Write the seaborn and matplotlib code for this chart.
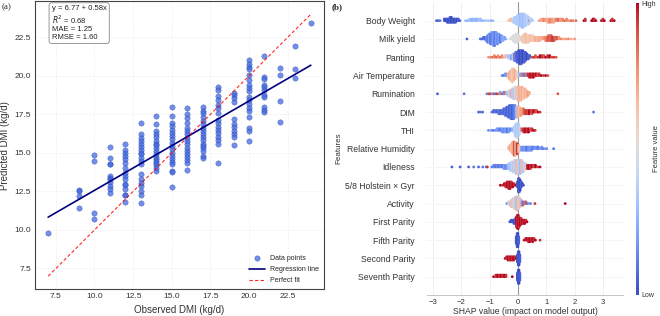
import numpy as np
import pandas as pd
import seaborn as sns
import matplotlib
matplotlib.use('Agg')
import matplotlib.pyplot as plt
from matplotlib.colors import Normalize
from matplotlib.cm import ScalarMappable

# Panel (a): predicted DMI per observed DMI (kg/d), read per column
pred_07 = [9.8]
pred_09 = [12.6, 12.5, 12.2, 11.4]
pred_10 = [14.85, 14.45, 11.1, 10.7]
pred_11 = [15.4, 14.65, 14.3, 14.3, 13.5, 13.4, 13.3, 13.1, 12.85, 12.65, 12.4]
pred_12 = [15.6, 15.2, 15.0, 14.8, 14.6, 14.35, 14.05, 13.7, 13.5, 13.3, 13.0,
           12.95, 12.65, 12.3, 12.25, 11.8]
pred_13 = [16.95, 16.2, 15.95, 15.8, 15.55, 15.4, 15.2, 15.0, 14.9, 14.7, 14.45,
           14.25, 13.6, 13.3, 13.05, 12.85, 12.5, 12.3, 11.75]
pred_14 = [17.4, 16.85, 16.4, 16.2, 16.0, 15.8, 15.6, 15.5, 15.3, 15.1, 14.9,
           14.75, 14.6, 14.45, 14.35, 14.2, 14.05, 13.85]
pred_15 = [17.95, 17.4, 16.95, 16.75, 16.5, 16.3, 16.1, 15.9, 15.65, 15.45, 15.25,
           15.0, 14.8, 14.6, 14.4, 14.3, 13.8, 13.75, 12.8]
pred_16 = [17.9, 17.5, 17.25, 16.95, 16.6, 16.4, 16.2, 15.95, 15.75, 15.55, 15.35,
           15.1, 14.9, 14.75, 14.55, 14.35, 13.9]
pred_17 = [18.0, 17.75, 17.6, 17.35, 17.1, 16.9, 16.6, 16.4, 16.2, 16.05, 15.85,
           15.6, 15.45, 15.3, 15.1, 14.8, 14.7]
pred_18 = [19.3, 19.1, 18.7, 18.45, 18.1, 17.9, 17.6, 17.15, 16.95, 16.7, 16.5,
           16.3, 16.05, 15.85, 15.6, 14.35]
pred_19 = [18.9, 18.75, 18.55, 18.3, 17.2, 16.85, 16.65, 16.45, 16.25, 16.05, 15.5]
pred_20 = [21.0, 20.8, 20.6, 20.45, 20.05, 19.75, 19.4, 19.2, 19.0, 18.65, 18.45,
           18.2, 17.9, 17.7, 17.35, 16.6, 16.45, 15.8]
pred_21 = [21.3, 19.95, 19.8, 19.4, 19.25, 19.1, 18.75, 18.6, 18.0, 17.8, 17.65]
pred_22 = [20.5, 20.05, 18.4, 17.0]
pred_23 = [21.95, 20.45, 19.85]
pred_24 = [23.45]

observed_levels = [7, 9, 10, 11, 12, 13, 14, 15, 16, 17, 18, 19, 20, 21, 22, 23, 24]
pred_columns = [pred_07, pred_09, pred_10, pred_11, pred_12, pred_13, pred_14, pred_15,
                pred_16, pred_17, pred_18, pred_19, pred_20, pred_21, pred_22, pred_23,
                pred_24]

intercept, slope = 6.77, 0.58
r2, mae, rmse = 0.68, 1.25, 1.60

# Panel (b): SHAP summary, each entry = (shap value, number of points, feature value 0-1)
feature_names = ['Body Weight', 'Milk yield', 'Panting', 'Air Temperature', 'Rumination',
                 'DIM', 'THI', 'Relative Humidity', 'Idleness', '5/8 Holstein × Gyr',
                 'Activity', 'First Parity', 'Fifth Parity', 'Second Parity',
                 'Seventh Parity']

body_weight = [
    (-2.88, 1, 0.1), (-2.82, 1, 0.05), (-2.75, 1, 0.1),
    (-2.6, 2, 0.05), (-2.55, 2, 0.0), (-2.5, 3, 0.05), (-2.45, 3, 0.0), (-2.4, 4, 0.05),
    (-2.35, 4, 0.0), (-2.3, 3, 0.05), (-2.25, 3, 0.0), (-2.2, 3, 0.05), (-2.15, 2, 0.0),
    (-2.1, 2, 0.05), (-2.05, 1, 0.05),
    (-1.85, 1, 0.3), (-1.78, 1, 0.25), (-1.7, 2, 0.3), (-1.62, 2, 0.25), (-1.55, 2, 0.3),
    (-1.48, 2, 0.25), (-1.4, 2, 0.3), (-1.32, 2, 0.3), (-1.25, 1, 0.25), (-1.15, 1, 0.3),
    (-1.05, 1, 0.3), (-0.95, 1, 0.25), (-0.88, 1, 0.3),
    (-0.33, 1, 0.65), (-0.28, 2, 0.6), (-0.22, 2, 0.65), (-0.17, 3, 0.4), (-0.12, 4, 0.35),
    (-0.07, 5, 0.35), (-0.02, 6, 0.35), (0.03, 7, 0.35), (0.08, 8, 0.3), (0.13, 9, 0.35),
    (0.18, 9, 0.3), (0.23, 8, 0.35), (0.28, 7, 0.35), (0.33, 6, 0.4), (0.38, 5, 0.35),
    (0.41, 1, 0.9), (0.43, 3, 0.4), (0.48, 2, 0.35), (0.53, 1, 0.4),
    (0.75, 1, 0.75), (0.82, 2, 0.7), (0.9, 2, 0.8), (0.97, 2, 0.75), (1.05, 3, 0.7),
    (1.12, 3, 0.8), (1.2, 3, 0.75), (1.27, 3, 0.7), (1.35, 2, 0.8), (1.42, 2, 0.85),
    (1.5, 2, 0.75), (1.58, 2, 0.8), (1.65, 1, 0.85), (1.72, 2, 0.8), (1.8, 1, 0.75),
    (1.88, 1, 0.85), (1.95, 1, 0.8), (2.05, 1, 0.85),
    (2.33, 1, 1.0), (2.38, 2, 0.95), (2.6, 1, 1.0), (2.65, 2, 1.0), (2.7, 2, 0.95),
    (2.75, 1, 1.0), (2.95, 1, 1.0), (3.0, 2, 0.95), (3.05, 1, 1.0), (3.28, 1, 1.0),
    (3.33, 2, 0.95), (3.4, 1, 1.0)]

milk_yield = [
    (-1.8, 1, 0.05),
    (-1.33, 1, 0.1), (-1.27, 1, 0.05), (-1.22, 2, 0.1), (-1.17, 2, 0.05), (-1.12, 3, 0.15),
    (-1.07, 5, 0.1), (-1.02, 6, 0.2), (-0.97, 7, 0.1), (-0.92, 8, 0.15), (-0.87, 9, 0.2),
    (-0.82, 9, 0.1), (-0.77, 8, 0.2), (-0.72, 7, 0.15), (-0.67, 6, 0.2), (-0.62, 5, 0.1),
    (-0.57, 4, 0.2), (-0.52, 3, 0.25), (-0.47, 2, 0.2), (-0.42, 1, 0.25),
    (-0.27, 1, 0.5), (-0.22, 2, 0.5), (-0.17, 4, 0.5), (-0.12, 5, 0.5), (-0.07, 6, 0.5),
    (-0.02, 6, 0.5), (0.03, 4, 0.5), (0.08, 2, 0.55),
    (0.13, 3, 0.6), (0.18, 5, 0.62), (0.23, 6, 0.6), (0.28, 6, 0.65), (0.33, 5, 0.62),
    (0.38, 5, 0.6), (0.43, 4, 0.65), (0.48, 4, 0.62), (0.53, 4, 0.6), (0.58, 3, 0.65),
    (0.63, 3, 0.7), (0.68, 3, 0.65), (0.73, 3, 0.7), (0.78, 3, 0.68), (0.83, 2, 0.7),
    (0.88, 2, 0.72), (0.93, 2, 0.75), (0.98, 3, 0.8), (1.03, 3, 0.85), (1.08, 4, 0.9),
    (1.13, 4, 0.85), (1.18, 4, 0.9), (1.23, 3, 0.95), (1.28, 3, 0.9), (1.33, 2, 0.85),
    (1.38, 2, 0.9), (1.45, 2, 0.75), (1.52, 1, 0.8), (1.6, 1, 0.7), (1.68, 1, 0.75),
    (1.78, 1, 0.8), (1.88, 1, 0.7), (2.0, 1, 0.75)]

panting = [
    (-1.04, 1, 0.75), (-0.97, 1, 0.8), (-0.9, 1, 0.85), (-0.83, 2, 0.8), (-0.76, 1, 0.9),
    (-0.7, 2, 0.75), (-0.63, 1, 0.85), (-0.56, 2, 0.8), (-0.5, 1, 0.7), (-0.44, 2, 0.65),
    (-0.38, 2, 0.4),
    (-0.33, 2, 0.3), (-0.28, 3, 0.35), (-0.23, 3, 0.2), (-0.18, 4, 0.65), (-0.13, 5, 0.15),
    (-0.08, 6, 0.1), (-0.03, 7, 0.05), (0.02, 8, 0.05), (0.07, 9, 0.0), (0.12, 9, 0.05),
    (0.17, 8, 0.0), (0.22, 7, 0.05), (0.27, 6, 0.05), (0.32, 4, 0.0), (0.37, 3, 0.05),
    (0.42, 2, 0.05),
    (0.5, 1, 0.9), (0.56, 1, 0.95), (0.62, 2, 0.9), (0.7, 1, 0.95), (0.78, 2, 1.0),
    (0.85, 2, 0.95), (0.92, 2, 0.9), (0.98, 1, 1.0), (1.05, 2, 0.95), (1.12, 2, 1.0),
    (1.2, 1, 0.9), (1.27, 1, 0.95), (1.35, 1, 0.9)]

air_temperature = [
    (-0.56, 1, 0.15), (-0.5, 1, 0.1), (-0.45, 2, 0.2), (-0.4, 2, 0.15),
    (-0.35, 3, 0.65), (-0.3, 5, 0.7), (-0.25, 7, 0.65), (-0.2, 9, 0.6), (-0.15, 8, 0.65),
    (-0.1, 6, 0.7), (-0.05, 4, 0.6), (0.0, 2, 0.55),
    (0.05, 2, 0.3), (0.1, 2, 0.2), (0.15, 2, 0.85), (0.2, 2, 0.15), (0.25, 2, 0.9),
    (0.3, 2, 0.2), (0.35, 2, 0.95),
    (0.4, 3, 0.95), (0.45, 3, 1.0), (0.5, 3, 0.95), (0.55, 3, 1.0), (0.6, 2, 0.95),
    (0.65, 2, 1.0), (0.7, 2, 0.9), (0.75, 2, 0.95), (0.82, 1, 1.0), (0.9, 1, 0.95),
    (0.98, 1, 1.0), (1.06, 1, 0.9)]

rumination = [
    (-2.84, 1, 0.05), (-1.9, 1, 0.1),
    (-1.1, 1, 0.15), (-1.04, 1, 0.9), (-0.98, 1, 0.95), (-0.92, 1, 0.2), (-0.86, 1, 0.9),
    (-0.8, 1, 0.1), (-0.74, 1, 0.95), (-0.68, 1, 0.85), (-0.62, 2, 0.2), (-0.56, 1, 0.9),
    (-0.5, 2, 0.15), (-0.45, 2, 0.85), (-0.4, 2, 0.3),
    (-0.35, 3, 0.35), (-0.3, 4, 0.6), (-0.25, 5, 0.3), (-0.2, 6, 0.65), (-0.15, 7, 0.35),
    (-0.1, 8, 0.6), (-0.05, 8, 0.4), (0.0, 9, 0.65), (0.05, 9, 0.7), (0.1, 9, 0.65),
    (0.15, 8, 0.7), (0.2, 7, 0.6), (0.25, 6, 0.7), (0.3, 5, 0.65), (0.35, 3, 0.75),
    (0.4, 2, 0.7),
    (1.41, 1, 0.9)]

dim = [
    (-1.39, 1, 0.05), (-1.33, 1, 0.1), (-1.25, 1, 0.05),
    (-0.92, 1, 0.1), (-0.86, 2, 0.05), (-0.8, 2, 0.1), (-0.74, 2, 0.05), (-0.68, 3, 0.1),
    (-0.62, 3, 0.05), (-0.56, 3, 0.1), (-0.5, 4, 0.05),
    (-0.45, 5, 0.1), (-0.4, 6, 0.05), (-0.35, 7, 0.1), (-0.3, 8, 0.05), (-0.25, 9, 0.1),
    (-0.2, 9, 0.05), (-0.15, 9, 0.1), (-0.1, 8, 0.15), (-0.05, 7, 0.3),
    (0.0, 7, 0.7), (0.05, 6, 0.65), (0.1, 5, 0.75), (0.15, 4, 0.7), (0.2, 4, 0.85),
    (0.25, 3, 0.9), (0.3, 3, 0.95), (0.35, 3, 0.9), (0.4, 3, 1.0), (0.45, 2, 0.95),
    (0.5, 3, 0.9), (0.55, 2, 1.0), (0.6, 2, 0.95), (0.66, 2, 0.9), (0.72, 1, 1.0),
    (0.78, 1, 0.95),
    (2.67, 1, 0.1)]

thi = [
    (-1.04, 1, 0.15), (-0.95, 1, 0.2), (-0.88, 1, 0.1), (-0.8, 1, 0.15), (-0.74, 2, 0.2),
    (-0.68, 2, 0.15), (-0.62, 2, 0.1), (-0.56, 3, 0.2), (-0.5, 3, 0.15), (-0.44, 3, 0.2),
    (-0.38, 3, 0.1), (-0.32, 3, 0.2), (-0.26, 2, 0.15), (-0.2, 2, 0.25),
    (-0.14, 4, 0.35), (-0.1, 7, 0.4), (-0.06, 9, 0.35), (-0.02, 9, 0.4), (0.02, 8, 0.35),
    (0.06, 5, 0.4),
    (0.14, 2, 0.9), (0.2, 3, 0.95), (0.26, 3, 1.0), (0.32, 3, 0.95), (0.38, 3, 1.0),
    (0.44, 2, 0.9), (0.5, 2, 0.95), (0.56, 1, 1.0), (0.61, 1, 0.95)]

relative_humidity = [
    (-0.33, 2, 0.65), (-0.28, 4, 0.7), (-0.23, 6, 0.65), (-0.18, 8, 0.7), (-0.13, 9, 0.9),
    (-0.08, 9, 0.65), (-0.03, 7, 0.95), (0.02, 5, 0.7), (0.07, 3, 0.6),
    (0.12, 3, 0.2), (0.18, 3, 0.15), (0.24, 3, 0.2), (0.3, 3, 0.1), (0.36, 3, 0.15),
    (0.42, 3, 0.2), (0.48, 3, 0.15), (0.54, 2, 0.1), (0.6, 2, 0.2), (0.66, 2, 0.15),
    (0.72, 2, 0.1), (0.78, 1, 0.2), (0.84, 2, 0.15), (0.9, 1, 0.1), (0.96, 1, 0.2),
    (1.02, 1, 0.15), (1.26, 1, 0.1)]

idleness = [
    (-2.33, 1, 0.05), (-2.04, 1, 0.05), (-1.74, 1, 0.05), (-1.56, 1, 0.1), (-1.39, 1, 0.05),
    (-1.24, 1, 0.1), (-1.12, 1, 0.1), (-1.08, 1, 0.95),
    (-0.92, 1, 0.1), (-0.86, 2, 0.15), (-0.8, 2, 0.1), (-0.74, 2, 0.15), (-0.68, 2, 0.1),
    (-0.62, 2, 0.15), (-0.56, 2, 0.1), (-0.5, 3, 0.2), (-0.44, 3, 0.15), (-0.38, 3, 0.2),
    (-0.32, 4, 0.35), (-0.27, 5, 0.3), (-0.22, 6, 0.4), (-0.17, 7, 0.35), (-0.12, 8, 0.6),
    (-0.07, 9, 0.35), (-0.02, 9, 0.65), (0.03, 9, 0.4), (0.08, 9, 0.3), (0.13, 8, 0.65),
    (0.18, 7, 0.35), (0.23, 5, 0.6), (0.28, 4, 0.4),
    (0.33, 3, 0.95), (0.38, 3, 1.0), (0.44, 3, 0.95), (0.5, 2, 1.0), (0.56, 2, 0.9),
    (0.62, 2, 1.0), (0.7, 1, 0.95), (0.78, 1, 1.0)]

holstein_gyr = [
    (-0.62, 1, 1.0), (-0.55, 1, 0.95), (-0.48, 2, 1.0), (-0.43, 3, 0.95), (-0.38, 4, 1.0),
    (-0.33, 5, 0.95), (-0.28, 5, 1.0), (-0.23, 4, 0.95), (-0.18, 3, 1.0), (-0.13, 2, 0.95),
    (-0.08, 1, 1.0),
    (-0.02, 4, 0.05), (0.02, 9, 0.0), (0.05, 9, 0.05), (0.08, 7, 0.0), (0.12, 4, 0.05),
    (0.16, 2, 0.0), (0.2, 1, 0.05)]

activity = [
    (-0.39, 1, 0.15), (-0.33, 2, 0.6), (-0.28, 3, 0.35), (-0.23, 5, 0.65), (-0.18, 6, 0.4),
    (-0.13, 7, 0.6), (-0.08, 8, 0.35), (-0.03, 9, 0.7), (0.02, 8, 0.4), (0.07, 6, 0.65),
    (0.12, 4, 0.3),
    (0.17, 3, 0.9), (0.22, 2, 0.15), (0.28, 2, 0.9), (0.34, 1, 0.1), (0.4, 1, 0.2),
    (0.45, 1, 0.15), (0.6, 1, 0.95), (1.67, 1, 1.0)]

first_parity = [
    (-0.29, 1, 0.05), (-0.24, 2, 0.0), (-0.19, 2, 0.05), (-0.14, 3, 0.0), (-0.09, 4, 0.05),
    (-0.05, 7, 1.0), (-0.02, 9, 0.95), (0.01, 9, 1.0), (0.04, 7, 0.95), (0.08, 5, 1.0),
    (0.12, 4, 0.95), (0.16, 3, 1.0), (0.2, 3, 0.95), (0.24, 3, 1.0), (0.28, 2, 0.95),
    (0.32, 1, 1.0)]

fifth_parity = [
    (-0.06, 5, 0.0), (-0.03, 9, 0.05), (0.0, 9, 0.0), (0.03, 5, 0.05),
    (0.22, 1, 1.0), (0.27, 2, 0.95), (0.32, 2, 1.0), (0.37, 3, 0.95), (0.42, 3, 1.0),
    (0.47, 2, 0.95), (0.52, 3, 1.0), (0.57, 2, 0.95), (0.62, 1, 1.0), (0.78, 1, 0.95)]

second_parity = [
    (-0.45, 1, 1.0), (-0.4, 2, 0.95), (-0.35, 3, 1.0), (-0.3, 3, 0.95), (-0.25, 3, 1.0),
    (-0.2, 3, 0.95), (-0.15, 3, 1.0), (-0.1, 2, 0.95), (-0.06, 1, 1.0),
    (-0.02, 5, 0.0), (0.01, 9, 0.05), (0.04, 9, 0.0), (0.07, 5, 0.05)]

seventh_parity = [
    (-0.86, 1, 1.0), (-0.78, 2, 0.95), (-0.72, 2, 1.0), (-0.66, 2, 0.95), (-0.6, 2, 1.0),
    (-0.54, 2, 0.95), (-0.48, 2, 1.0), (-0.42, 2, 0.95), (-0.2, 1, 1.0),
    (-0.02, 5, 0.0), (0.01, 9, 0.05), (0.04, 9, 0.0), (0.07, 5, 0.05)]

shap_rows = [body_weight, milk_yield, panting, air_temperature, rumination, dim, thi,
             relative_humidity, idleness, holstein_gyr, activity, first_parity,
             fifth_parity, second_parity, seventh_parity]

# tablas para seaborn
df_a = pd.DataFrame([(lvl, p) for lvl, col in zip(observed_levels, pred_columns) for p in col],
                    columns=['observed', 'predicted'])

n_feat = len(feature_names)
layer_step = 0.09
recs = []
for i, pts in enumerate(shap_rows):
    row_y = n_feat - 1 - i
    for sv, n, fv in pts:
        for k in range(n):
            off = np.ceil(k / 2) * (1 if k % 2 else -1) * layer_step
            recs.append((sv, row_y + off, fv))
df_b = pd.DataFrame(recs, columns=['shap', 'row', 'value'])

sns.set_theme(style='white')
plt.rcParams['font.family'] = ['Liberation Sans', 'DejaVu Sans']
plt.rcParams['axes.unicode_minus'] = True

fig = plt.figure(figsize=(6.6, 3.16), dpi=100)

# ---------------- (a)
ax1 = fig.add_axes([0.053, 0.0845, 0.4379, 0.912])
sns.scatterplot(data=df_a, x='observed', y='predicted', color='#4169E1', alpha=0.75,
                s=15, linewidth=0.3, edgecolor='#2a45a8', label='Data points', ax=ax1, zorder=3)
xs = np.array([min(observed_levels), max(observed_levels)])
ax1.plot(xs, intercept + slope * xs, color='#000080', lw=1.2, label='Regression line', zorder=4)
ax1.plot(xs, xs, color='red', lw=0.8, ls=(0, (3, 2)), alpha=0.85, label='Perfect fit', zorder=4)
ax1.set_xlim(6.15, 24.85)
ax1.set_ylim(6.15, 24.85)
ax1.set_xticks([7.5, 10, 12.5, 15, 17.5, 20, 22.5])
ax1.set_yticks([7.5, 10, 12.5, 15, 17.5, 20, 22.5])
ax1.xaxis.set_major_formatter(matplotlib.ticker.FormatStrFormatter('%.1f'))
ax1.yaxis.set_major_formatter(matplotlib.ticker.FormatStrFormatter('%.1f'))
ax1.tick_params(labelsize=6, colors='#333333', length=0, pad=3)
ax1.grid(True, color='#e4e4e4', lw=0.5, ls=':')
for sp in ax1.spines.values():
    sp.set_color('#444444')
    sp.set_linewidth(0.8)
ax1.set_xlabel('Observed DMI (kg/d)', fontsize=7, color='#333333', labelpad=3)
ax1.set_ylabel('Predicted DMI (kg/d)', fontsize=7, color='#333333', labelpad=3)
ax1.text(0.058, 0.985, f'y = {intercept:.2f} + {slope:.2f}x\n$R^2$ = {r2:.2f}\nMAE = {mae:.2f}\nRMSE = {rmse:.2f}',
         transform=ax1.transAxes, ha='left', va='top', fontsize=5.5, color='#222222',
         linespacing=1.1,
         bbox=dict(boxstyle='round,pad=0.35', fc='white', ec='#888888', lw=0.6))
ax1.legend(loc='lower right', fontsize=5, frameon=False, handlelength=2.2,
           borderaxespad=0.3, labelspacing=0.6)
fig.text(0.002, 0.978, '(a)', fontsize=6.5, family='Liberation Serif', va='center')

# ---------------- (b)
ax2 = fig.add_axes([0.6474, 0.0665, 0.2961, 0.926])
for y in range(n_feat):
    ax2.axhline(y, color='#cccccc', lw=0.5, dashes=(1, 3), zorder=0)
ax2.axvline(0, color='#999999', lw=0.8, zorder=1)
sns.scatterplot(data=df_b, x='shap', y='row', hue='value', palette='coolwarm',
                hue_norm=(0, 1), s=4, linewidth=0, legend=False, ax=ax2, zorder=3)
ax2.set_xlim(-3.2, 3.7)
ax2.set_ylim(-1, n_feat)
ax2.set_xticks([-3, -2, -1, 0, 1, 2, 3])
ax2.grid(axis='x', color='#eeeeee', lw=0.6)
ax2.set_yticks(range(n_feat))
ax2.set_yticklabels(feature_names[::-1])
ax2.tick_params(axis='y', labelsize=6.2, colors='#333333', length=0, pad=9)
ax2.tick_params(axis='x', labelsize=5.5, colors='#333333', length=2, width=0.5, pad=1)
for side in ['left', 'top', 'right']:
    ax2.spines[side].set_visible(False)
ax2.spines['bottom'].set_color('#bbbbbb')
ax2.spines['bottom'].set_linewidth(0.6)
ax2.set_xlabel('SHAP value (impact on model output)', fontsize=6.2, color='#333333', labelpad=0.5)
ax2.set_ylabel('Features', fontsize=5.8, color='#333333', labelpad=2)
fig.text(0.503, 0.978, '(b)', fontsize=6.5, family='Liberation Serif', weight='bold', va='center')

cax = fig.add_axes([0.9636, 0.0665, 0.0045, 0.924])
sm = ScalarMappable(norm=Normalize(0, 1), cmap='coolwarm')
cb = fig.colorbar(sm, cax=cax, ticks=[0, 1])
cb.set_ticklabels(['Low', 'High'])
cb.ax.tick_params(labelsize=5, length=0, pad=1.5, colors='#333333')
cb.outline.set_visible(False)
cb.set_label('Feature value', fontsize=5.5, color='#333333', labelpad=-2)

fig.savefig('out.png', dpi=100)
